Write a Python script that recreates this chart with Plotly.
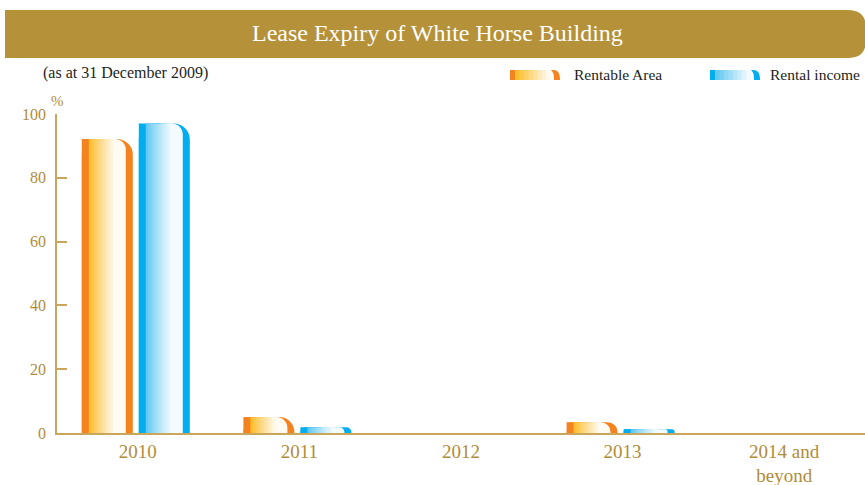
import plotly.graph_objects as go

# ---------------- data ----------------
categories = ["2010", "2011", "2012", "2013", "2014 and<br>beyond"]
rentable_area = [92.2, 5.0, 0, 3.4, 0]
rental_income = [97.0, 1.8, 0, 1.2, 0]
y_ticks = [0, 20, 40, 60, 80, 100]

# ---------------- layout constants ----------------
W, H = 865, 485
ML, MR, MT, MB = 57, 0, 114, 52
PW = W - ML - MR
PH = H - MT - MB
UNIT = PW / len(categories)  # px per category

GOLD = "#b5913a"
TXT_GOLD = "#b08c3a"
AXIS_GOLD = "#c9a65c"
SERIF = "Liberation Serif, Times New Roman, serif"


def px2u(p):
    return p / UNIT


def mix(c0, c1, t):
    a = [int(c0[i:i + 2], 16) for i in (1, 3, 5)]
    b = [int(c1[i:i + 2], 16) for i in (1, 3, 5)]
    return "#" + "".join(f"{round(a[k] + (b[k] - a[k]) * t):02x}" for k in range(3))


# window pixel -> paper coords
def px_x(p):
    return (p - ML) / PW


def px_y(p):
    return (H - MB - p) / PH


fig = go.Figure()

series = [
    (rentable_area, -56, "#f58220", "#fdbe2e", "#fffaf2"),
    (rental_income, 1, "#00aeef", "#66c9f1", "#f4fbff"),
]
BW = 51
for vals, left, dark, g0, g1 in series:
    # dark body with rounded top-right
    fig.add_trace(go.Bar(x=categories, y=vals, offset=px2u(left), width=px2u(BW),
                         marker=dict(color=dark, line=dict(width=0), cornerradius=16),
                         showlegend=False, hoverinfo="skip"))
    # square top-left part of the dark body
    fig.add_trace(go.Bar(x=categories, y=vals, offset=px2u(left), width=px2u(22),
                         marker=dict(color=dark, line=dict(width=0)),
                         showlegend=False, hoverinfo="skip"))
    # light inner piece, rounded
    fig.add_trace(go.Bar(x=categories, y=vals, offset=px2u(left + 18), width=px2u(BW - 18 - 7),
                         marker=dict(color=g1, line=dict(width=0), cornerradius=11),
                         showlegend=False, hoverinfo="skip"))
    # gradient slices
    n = 10
    s0, s1 = 7, 34
    step = (s1 - s0) / n
    for i in range(n):
        t = i / (n - 1)
        col = mix(g0, g1, t ** 0.9)
        fig.add_trace(go.Bar(x=categories, y=vals, offset=px2u(left + s0 + i * step),
                             width=px2u(step + 0.6),
                             marker=dict(color=col, line=dict(width=0)),
                             showlegend=False, hoverinfo="skip"))

shapes = []
# title banner
x0, x1, y0, y1, r = 5, 866, 10, 58, 18
path = (f"M {px_x(x0)},{px_y(y0)} L {px_x(x1 - r)},{px_y(y0)} "
        f"Q {px_x(x1)},{px_y(y0)} {px_x(x1)},{px_y(y0 + r)} "
        f"L {px_x(x1)},{px_y(y1 - r)} Q {px_x(x1)},{px_y(y1)} {px_x(x1 - r)},{px_y(y1)} "
        f"L {px_x(x0)},{px_y(y1)} Z")
shapes.append(dict(type="path", xref="paper", yref="paper", path=path,
                   fillcolor=GOLD, line=dict(width=0), layer="below"))


def legend_swatch(lx, dark, g0, g1):
    top, bot = 70, 80
    shapes.append(dict(type="rect", xref="paper", yref="paper",
                       x0=px_x(lx), x1=px_x(lx + 5), y0=px_y(bot), y1=px_y(top),
                       fillcolor=dark, line=dict(width=0)))
    n = 8
    a, b = lx + 5, lx + 41
    st = (b - a) / n
    for i in range(n):
        shapes.append(dict(type="rect", xref="paper", yref="paper",
                           x0=px_x(a + i * st), x1=px_x(a + (i + 1) * st + 0.5),
                           y0=px_y(bot), y1=px_y(top),
                           fillcolor=mix(g0, g1, i / (n - 1)), line=dict(width=0)))
    p = (f"M {px_x(lx + 41)},{px_y(top)} L {px_x(lx + 44)},{px_y(top)} "
         f"Q {px_x(lx + 50)},{px_y(top)} {px_x(lx + 50)},{px_y(bot)} "
         f"L {px_x(lx + 44)},{px_y(bot)} Q {px_x(lx + 44)},{px_y(top + 2)} {px_x(lx + 41)},{px_y(top)} Z")
    shapes.append(dict(type="path", xref="paper", yref="paper", path=p,
                       fillcolor=dark, line=dict(width=0)))


legend_swatch(510, "#f58220", "#fdbe2e", "#fffaf2")
legend_swatch(710, "#00aeef", "#66c9f1", "#f4fbff")

annotations = [
    dict(text="Lease Expiry of White Horse Building", xref="paper", yref="paper",
         x=px_x(437), y=px_y(33), xanchor="center", yanchor="middle", showarrow=False,
         font=dict(family=SERIF, size=24, color="white")),
    dict(text="(as at 31 December 2009)", xref="paper", yref="paper",
         x=px_x(41), y=px_y(73), xanchor="left", yanchor="middle", showarrow=False,
         font=dict(family=SERIF, size=16, color="#231f20")),
    dict(text="Rentable Area", xref="paper", yref="paper",
         x=px_x(572), y=px_y(75), xanchor="left", yanchor="middle", showarrow=False,
         font=dict(family=SERIF, size=15.5, color="#231f20")),
    dict(text="Rental income", xref="paper", yref="paper",
         x=px_x(862), y=px_y(75), xanchor="right", yanchor="middle", showarrow=False,
         font=dict(family=SERIF, size=15.5, color="#231f20")),
    dict(text="%", xref="paper", yref="paper",
         x=px_x(57), y=px_y(101), xanchor="center", yanchor="middle", showarrow=False,
         font=dict(family=SERIF, size=15, color=TXT_GOLD)),
]

fig.update_layout(
    width=W, height=H,
    margin=dict(l=ML, r=MR, t=MT, b=MB, pad=0),
    paper_bgcolor="white", plot_bgcolor="white",
    barmode="overlay",
    showlegend=False,
    shapes=shapes,
    annotations=annotations,
    xaxis=dict(type="category", range=[-0.5, len(categories) - 0.5],
               showline=True, linecolor=AXIS_GOLD, linewidth=1.5,
               ticks="", showgrid=False, zeroline=False,
               tickfont=dict(family=SERIF, size=19, color=TXT_GOLD),
               fixedrange=True),
    yaxis=dict(range=[0, 100], tickvals=y_ticks, ticktext=[str(v) for v in y_ticks],
               showline=True, linecolor=AXIS_GOLD, linewidth=1.5,
               ticks="inside", ticklen=10, tickcolor=AXIS_GOLD, tickwidth=1.5,
               showgrid=False, zeroline=False, ticklabelstandoff=6,
               tickfont=dict(family=SERIF, size=16, color=TXT_GOLD),
               fixedrange=True),
)

fig.write_html(
    "out.html",
    config={"displayModeBar": False},
    post_script="document.body.style.margin='0px';"
                "document.documentElement.style.overflow='hidden';",
)
